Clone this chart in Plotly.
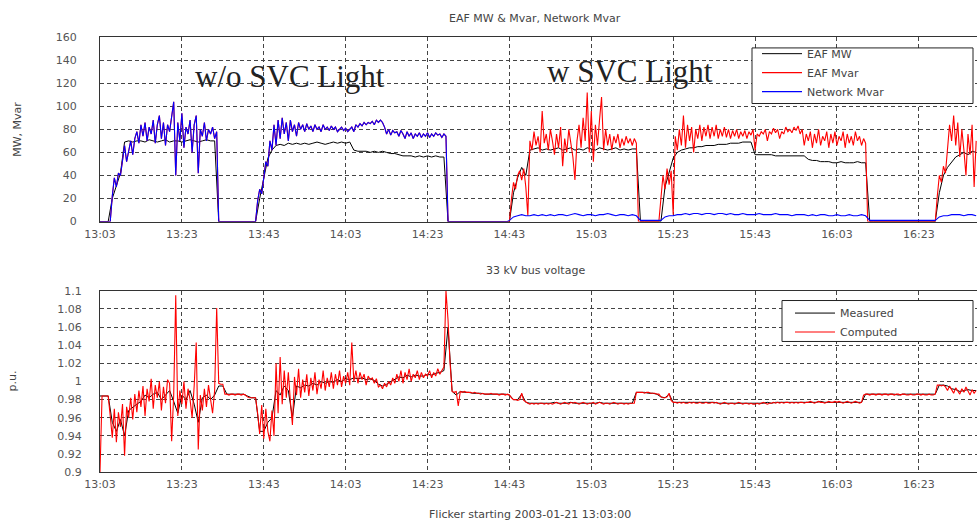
import plotly.graph_objects as go

# ---------------- data ----------------
TICK_MINUTES = [0, 20, 40, 60, 80, 100, 120, 140, 160, 180, 200]
TICK_LABELS = ["13:03", "13:23", "13:43", "14:03", "14:23", "14:43",
               "15:03", "15:23", "15:43", "16:03", "16:23"]
TOP_Y_TICKS = [0, 20, 40, 60, 80, 100, 120, 140, 160]
BOT_Y_TICKS = [0.9, 0.92, 0.94, 0.96, 0.98, 1.0, 1.02, 1.04, 1.06, 1.08, 1.1]
BOT_Y_LABELS = ["0.9", "0.92", "0.94", "0.96", "0.98", "1", "1.02", "1.04", "1.06", "1.08", "1.1"]

# EAF Mvar, sampled every 0.5 min from 13:03 (rows of 10 min)
eaf_mvar = [
    0, 0, 0, 0, 0, 0, 22, 38, 30, 42, 40, 55, 66, 52, 62, 70, 58, 72, 78, 68,
    84, 74, 86, 70, 82, 76, 88, 68, 84, 92, 72, 86, 66, 84, 78, 90, 104, 40, 86, 70,
    94, 64, 82, 76, 88, 60, 84, 92, 42, 80, 74, 86, 70, 80, 76, 82, 72, 78, 0, 0,
    0, 0, 0, 0, 0, 0, 0, 0, 0, 0, 0, 0, 0, 0, 0, 0, 0, 18, 28, 24,
    40, 52, 48, 70, 62, 84, 66, 88, 72, 90, 76, 86, 70, 88, 78, 84, 74, 86, 80, 84,
    78, 85, 80, 83, 78, 84, 80, 82, 78, 84, 80, 82, 79, 83, 80, 82, 78, 80, 82, 79,
    81, 78, 80, 82, 78, 84, 82, 85, 83, 86, 84, 86, 85, 87, 84, 88, 86, 88, 86, 82,
    76, 80, 75, 79, 77, 78, 74, 79, 76, 72, 78, 74, 77, 72, 76, 74, 77, 73, 76, 74,
    77, 73, 76, 74, 77, 75, 76, 73, 76, 74, 0, 0, 0, 0, 0, 0, 0, 0, 0, 0,
    0, 0, 0, 0, 0, 0, 0, 0, 0, 0, 0, 0, 0, 0, 0, 0, 0, 0, 0, 0,
    0, 20, 34, 28, 40, 44, 36, 46, 30, 5, 70, 62, 78, 66, 74, 60, 96, 68, 76, 62,
    80, 70, 58, 76, 64, 82, 48, 72, 60, 80, 66, 56, 36, 70, 84, 64, 90, 70, 112, 60,
    96, 52, 84, 66, 88, 108, 62, 80, 66, 76, 62, 74, 68, 76, 64, 72, 66, 74, 68, 72,
    66, 72, 68, 0, 0, 0, 0, 0, 0, 0, 0, 0, 0, 0, 20, 40, 28, 46, 32, 44,
    6, 74, 62, 80, 66, 92, 64, 84, 70, 82, 60, 80, 72, 84, 70, 82, 74, 84, 72, 82,
    74, 84, 72, 80, 74, 82, 73, 80, 72, 79, 74, 80, 72, 78, 74, 79, 72, 78, 75, 80,
    62, 76, 74, 78, 76, 80, 70, 78, 76, 81, 77, 80, 72, 78, 76, 82, 78, 80, 77, 82,
    79, 83, 76, 80, 66, 76, 70, 78, 64, 76, 68, 80, 66, 74, 70, 78, 64, 76, 68, 78,
    66, 74, 70, 78, 64, 76, 68, 74, 66, 78, 70, 74, 66, 72, 68, 0, 0, 0, 0, 0,
    0, 0, 0, 0, 0, 0, 0, 0, 0, 0, 0, 0, 0, 0, 0, 0, 0, 0, 0, 0,
    0, 0, 0, 0, 0, 0, 0, 0, 0, 22, 40, 34, 48, 42, 60, 84, 70, 92, 66, 86,
    56, 80, 62, 40, 76, 58, 84, 30, 70,
]

# EAF MW, sampled every 1 min from 13:03
eaf_mw = [
    0, 0, 0, 20, 32, 42, 69, 70, 69, 70,
    70, 69, 71, 70, 69, 70, 71, 69, 70, 70,
    69, 70, 71, 70, 69, 70, 71, 70, 70, 0,
    0, 0, 0, 0, 0, 0, 0, 0, 0, 20,
    36, 55, 62, 66, 67, 66, 68, 67, 68, 67,
    68, 67, 68, 69, 68, 67, 68, 69, 68, 69,
    68, 69, 62, 61, 61, 61, 60, 61, 60, 61,
    60, 59, 59, 58, 57, 57, 57, 56, 57, 56,
    57, 56, 57, 56, 56, 0, 0, 0, 0, 0,
    0, 0, 0, 0, 0, 0, 0, 0, 0, 0,
    0, 25, 38, 47, 40, 62, 63, 64, 62, 63,
    62, 63, 64, 62, 63, 64, 62, 63, 62, 64,
    63, 62, 64, 63, 62, 63, 64, 62, 63, 62,
    63, 63, 0, 0, 0, 0, 0, 0, 30, 42,
    55, 60, 62, 63, 64, 64, 65, 65, 66, 66,
    66, 67, 67, 67, 68, 68, 68, 69, 69, 69,
    58, 58, 58, 58, 58, 57, 57, 57, 57, 57,
    57, 57, 57, 54, 53, 53, 52, 52, 52, 51,
    51, 52, 51, 51, 51, 52, 51, 51, 0, 0,
    0, 0, 0, 0, 0, 0, 0, 0, 0, 0,
    0, 0, 0, 0, 0, 25, 40, 47, 52, 56,
    58, 60, 58, 61, 60,
]

# Network Mvar with SVC Light in service, every 1 min from 14:43 (minute 100)
# (before 14:43 the SVC is out of service, so network Mvar equals EAF Mvar)
network_mvar_svc = [
    1, 4, 5, 6, 5, 5, 6, 5, 6, 5,
    6, 5, 6, 6, 5, 6, 7, 6, 5, 6,
    6, 5, 6, 6, 7, 6, 5, 6, 6, 5,
    6, 5, 1, 1, 1, 1, 1, 1, 4, 5,
    5, 6, 6, 7, 6, 7, 7, 6, 7, 7,
    6, 7, 7, 6, 7, 6, 6, 7, 6, 6,
    6, 7, 6, 6, 6, 7, 6, 6, 6, 5,
    6, 6, 6, 5, 6, 5, 6, 6, 5, 5,
    6, 5, 5, 6, 5, 5, 6, 5, 1, 1,
    1, 1, 1, 1, 1, 1, 1, 1, 1, 1,
    1, 1, 1, 1, 1, 4, 5, 5, 6, 6,
    6, 5, 6, 6, 5,
]
SVC_START_MINUTE = 100

# 33 kV bus voltage, computed, every 0.5 min
v_computed = [
    0.900, 0.984, 0.984, 0.984, 0.984, 0.962, 0.938, 0.970, 0.933, 0.966, 0.950, 0.975, 0.918, 0.972, 0.960, 0.982, 0.958, 0.986, 0.966, 0.990,
    0.972, 0.995, 0.962, 0.992, 0.978, 1.003, 0.970, 0.996, 0.982, 1.000, 0.968, 0.994, 0.976, 1.002, 0.998, 0.934, 0.985, 1.095, 0.962, 0.990,
    0.975, 1.000, 0.970, 0.992, 0.980, 0.960, 0.995, 1.043, 0.925, 0.985, 0.968, 0.992, 0.972, 0.996, 0.978, 0.965, 0.990, 1.081, 0.998, 0.997,
    0.997, 0.986, 0.986, 0.985, 0.986, 0.986, 0.985, 0.986, 0.986, 0.985, 0.986, 0.985, 0.983, 0.982, 0.982, 0.982, 0.982, 0.965, 0.942, 0.974,
    0.937, 0.970, 0.945, 0.934, 0.968, 0.940, 1.020, 0.965, 1.027, 0.975, 1.012, 0.982, 1.010, 0.978, 0.952, 1.005, 0.985, 1.014, 0.982, 1.002,
    0.988, 1.008, 0.984, 1.004, 0.990, 1.010, 0.986, 1.002, 0.992, 1.012, 0.990, 1.004, 0.994, 1.010, 0.992, 1.008, 0.996, 1.012, 0.994, 1.006,
    0.998, 1.010, 0.996, 1.043, 1.000, 1.012, 0.998, 1.010, 1.002, 1.008, 0.996, 1.006, 1.002, 1.004, 0.998, 1.003, 0.994, 0.996, 0.992, 0.998,
    0.994, 1.000, 0.996, 1.004, 0.998, 1.008, 1.000, 1.012, 0.998, 1.010, 1.002, 1.014, 1.000, 1.008, 1.004, 1.012, 1.002, 1.010, 1.004, 1.008,
    1.006, 1.012, 1.004, 1.010, 1.006, 1.014, 1.008, 1.012, 1.016, 1.100, 1.068, 1.020, 0.989, 0.988, 0.989, 0.973, 0.989, 0.988, 0.989, 0.988,
    0.988, 0.988, 0.987, 0.988, 0.987, 0.987, 0.986, 0.987, 0.986, 0.986, 0.986, 0.987, 0.986, 0.986, 0.986, 0.985, 0.986, 0.986, 0.985, 0.986,
    0.985, 0.982, 0.980, 0.980, 0.979, 0.980, 0.987, 0.979, 0.977, 0.976, 0.975, 0.976, 0.975, 0.976, 0.975, 0.976, 0.976, 0.975, 0.976, 0.975,
    0.976, 0.975, 0.976, 0.977, 0.976, 0.975, 0.976, 0.977, 0.976, 0.975, 0.977, 0.976, 0.977, 0.976, 0.975, 0.976, 0.977, 0.976, 0.975, 0.976,
    0.976, 0.977, 0.975, 0.976, 0.977, 0.976, 0.975, 0.976, 0.976, 0.975, 0.976, 0.977, 0.976, 0.975, 0.976, 0.976, 0.975, 0.976, 0.975, 0.976,
    0.976, 0.976, 0.988, 0.988, 0.988, 0.988, 0.987, 0.988, 0.988, 0.987, 0.987, 0.987, 0.986, 0.986, 0.983, 0.982, 0.982, 0.983, 0.987, 0.979,
    0.977, 0.977, 0.976, 0.977, 0.976, 0.977, 0.976, 0.976, 0.977, 0.976, 0.977, 0.976, 0.976, 0.977, 0.976, 0.976, 0.977, 0.976, 0.976, 0.977,
    0.976, 0.977, 0.976, 0.975, 0.976, 0.977, 0.976, 0.975, 0.976, 0.976, 0.975, 0.976, 0.977, 0.976, 0.975, 0.976, 0.976, 0.975, 0.976, 0.975,
    0.975, 0.976, 0.975, 0.976, 0.977, 0.976, 0.975, 0.976, 0.976, 0.977, 0.976, 0.977, 0.976, 0.977, 0.976, 0.977, 0.977, 0.976, 0.977, 0.976,
    0.977, 0.976, 0.977, 0.977, 0.976, 0.977, 0.977, 0.978, 0.977, 0.976, 0.977, 0.978, 0.977, 0.977, 0.976, 0.977, 0.978, 0.977, 0.977, 0.978,
    0.977, 0.978, 0.977, 0.976, 0.977, 0.978, 0.977, 0.976, 0.977, 0.978, 0.977, 0.976, 0.977, 0.985, 0.986, 0.986, 0.985, 0.986, 0.986, 0.985,
    0.986, 0.986, 0.985, 0.986, 0.986, 0.985, 0.986, 0.986, 0.985, 0.986, 0.986, 0.985, 0.986, 0.986, 0.985, 0.985, 0.986, 0.985, 0.985, 0.986,
    0.986, 0.985, 0.986, 0.985, 0.985, 0.986, 0.985, 0.985, 0.986, 0.996, 0.996, 0.995, 0.996, 0.994, 0.990, 0.995, 0.991, 0.987, 0.993, 0.990,
    0.986, 0.992, 0.988, 0.994, 0.989, 0.985, 0.991, 0.987, 0.990,
]

# 33 kV bus voltage, measured, every 1 min
v_measured = [
    0.984, 0.984, 0.984, 0.955, 0.945, 0.958, 0.940, 0.968, 0.972, 0.975,
    0.978, 0.985, 0.982, 0.986, 0.988, 0.980, 0.985, 0.990, 0.978, 0.965,
    0.985, 0.980, 0.990, 0.975, 0.955, 0.982, 0.985, 0.980, 0.985, 0.995,
    0.995, 0.986, 0.986, 0.986, 0.986, 0.986, 0.984, 0.982, 0.982, 0.945,
    0.945, 0.955, 0.960, 0.990, 0.985, 0.995, 0.990, 0.960, 0.995, 0.993,
    0.996, 0.995, 0.998, 0.996, 1.000, 0.998, 1.000, 0.999, 1.002, 1.000,
    1.003, 1.002, 1.004, 1.003, 1.004, 1.002, 1.003, 1.001, 0.997, 0.995,
    0.997, 1.000, 1.002, 1.005, 1.004, 1.007, 1.005, 1.007, 1.006, 1.006,
    1.008, 1.007, 1.009, 1.010, 1.012, 1.060, 0.989, 0.985, 0.989, 0.988,
    0.988, 0.987, 0.987, 0.987, 0.986, 0.986, 0.986, 0.986, 0.986, 0.986,
    0.985, 0.980, 0.980, 0.986, 0.977, 0.976, 0.976, 0.976, 0.976, 0.976,
    0.976, 0.977, 0.976, 0.976, 0.976, 0.977, 0.976, 0.976, 0.976, 0.976,
    0.976, 0.976, 0.977, 0.976, 0.976, 0.976, 0.976, 0.976, 0.976, 0.976,
    0.976, 0.988, 0.988, 0.988, 0.987, 0.987, 0.986, 0.983, 0.982, 0.986,
    0.977, 0.977, 0.977, 0.977, 0.977, 0.977, 0.977, 0.977, 0.977, 0.977,
    0.977, 0.976, 0.976, 0.976, 0.976, 0.976, 0.976, 0.976, 0.976, 0.976,
    0.976, 0.976, 0.976, 0.977, 0.976, 0.977, 0.977, 0.977, 0.977, 0.977,
    0.977, 0.977, 0.977, 0.977, 0.977, 0.977, 0.978, 0.977, 0.977, 0.977,
    0.977, 0.977, 0.977, 0.977, 0.977, 0.977, 0.977, 0.986, 0.986, 0.986,
    0.986, 0.986, 0.986, 0.986, 0.986, 0.985, 0.986, 0.986, 0.986, 0.986,
    0.986, 0.986, 0.986, 0.986, 0.986, 0.996, 0.996, 0.995, 0.992, 0.991,
    0.989, 0.990, 0.991, 0.990, 0.990,
]

# ---------------- time bases ----------------
t_half = [i * 0.5 for i in range(len(eaf_mvar))]
t_min = list(range(len(eaf_mw)))
n_pre = int(SVC_START_MINUTE / 0.5)
net_t = t_half[:n_pre] + list(range(SVC_START_MINUTE, SVC_START_MINUTE + len(network_mvar_svc)))
net_v = eaf_mvar[:n_pre] + network_mvar_svc

# ---------------- layout helpers ----------------
W, H = 977, 525
L = 100


def px_x(p):
    return (p - L) / (W - L)


def px_y(p):
    return (H - p) / H


TICK_FONT = dict(family="DejaVu Sans", size=11, color="#555555")
GRID = dict(showgrid=True, gridcolor="#444444", gridwidth=1, griddash="4px,3px")

fig = go.Figure()
fig.add_trace(go.Scatter(x=t_min, y=eaf_mw, name="EAF MW", mode="lines",
                         line=dict(color="#000000", width=1), xaxis="x", yaxis="y", legend="legend"))
fig.add_trace(go.Scatter(x=t_half, y=eaf_mvar, name="EAF Mvar", mode="lines",
                         line=dict(color="#ff0000", width=1.1), xaxis="x", yaxis="y", legend="legend"))
fig.add_trace(go.Scatter(x=net_t, y=net_v, name="Network Mvar", mode="lines",
                         line=dict(color="#0000ff", width=1.1), xaxis="x", yaxis="y", legend="legend"))
fig.add_trace(go.Scatter(x=t_min, y=v_measured, name="Measured", mode="lines",
                         line=dict(color="#000000", width=1), xaxis="x2", yaxis="y2", legend="legend2"))
fig.add_trace(go.Scatter(x=t_half, y=v_computed, name="Computed", mode="lines",
                         line=dict(color="#ff0000", width=1.1), xaxis="x2", yaxis="y2", legend="legend2"))

xcommon = dict(range=[0, 214.2], tickmode="array", tickvals=TICK_MINUTES, ticktext=TICK_LABELS,
               tickfont=TICK_FONT, showline=True, linecolor="#333333", linewidth=1, mirror=True,
               zeroline=False, ticks="", ticklabelstandoff=2, **GRID)
ycommon = dict(tickfont=TICK_FONT, showline=True, linecolor="#333333", linewidth=1, mirror=False,
               zeroline=False, ticks="", **GRID)

TXT = dict(family="DejaVu Sans", size=11, color="#444444")


def label(text, x, y, font=TXT, angle=0):
    return dict(text=text, x=px_x(x), y=px_y(y), xref="paper", yref="paper",
                xanchor="center", yanchor="middle", textangle=angle,
                showarrow=False, font=font)


fig.update_layout(
    width=W, height=H,
    margin=dict(l=L, r=0, t=0, b=0),
    paper_bgcolor="white", plot_bgcolor="white",
    showlegend=True, hovermode=False,
    xaxis=dict(domain=[0, 1], anchor="y", **xcommon),
    yaxis=dict(domain=[px_y(221), px_y(32)], anchor="x", range=[0, 160],
               tickmode="array", tickvals=TOP_Y_TICKS, ticklabelstandoff=20, **ycommon),
    xaxis2=dict(domain=[0, 1], anchor="y2", **xcommon),
    yaxis2=dict(domain=[px_y(478), px_y(292)], anchor="x2", range=[0.9, 1.1],
                tickmode="array", tickvals=BOT_Y_TICKS, ticktext=BOT_Y_LABELS,
                ticklabelstandoff=15, **ycommon),
    legend=dict(x=px_x(757), y=px_y(34), xanchor="left", yanchor="top",
                bgcolor="rgba(0,0,0,0)", borderwidth=0, itemwidth=40,
                font=dict(family="DejaVu Sans", size=11, color="#444444")),
    legend2=dict(x=px_x(790), y=px_y(300), xanchor="left", yanchor="top",
                 bgcolor="rgba(0,0,0,0)", borderwidth=0, itemwidth=40,
                 font=dict(family="DejaVu Sans", size=11, color="#444444")),
    shapes=[
        dict(type="rect", xref="paper", yref="paper",
             x0=px_x(752), x1=px_x(973), y0=px_y(100), y1=px_y(43),
             line=dict(color="#222222", width=1), fillcolor="white", layer="above"),
        dict(type="rect", xref="paper", yref="paper",
             x0=px_x(782), x1=px_x(973), y0=px_y(344), y1=px_y(302),
             line=dict(color="#222222", width=1), fillcolor="white", layer="above"),
    ],
    annotations=[
        label("EAF MW & Mvar, Network Mvar", 535, 13),
        label("33 kV bus voltage", 535, 271),
        label("Flicker starting 2003-01-21 13:03:00", 530, 521),
        label("MW, Mvar", 18, 127, angle=-90),
        label("p.u.", 12, 385, angle=-90),
        label("w/o SVC Light", 290, 72, font=dict(family="Liberation Serif", size=31, color="#222222")),
        label("w SVC Light", 630, 67, font=dict(family="Liberation Serif", size=31, color="#222222")),
    ],
)

fig.write_html("out.html", config={"displayModeBar": False})
